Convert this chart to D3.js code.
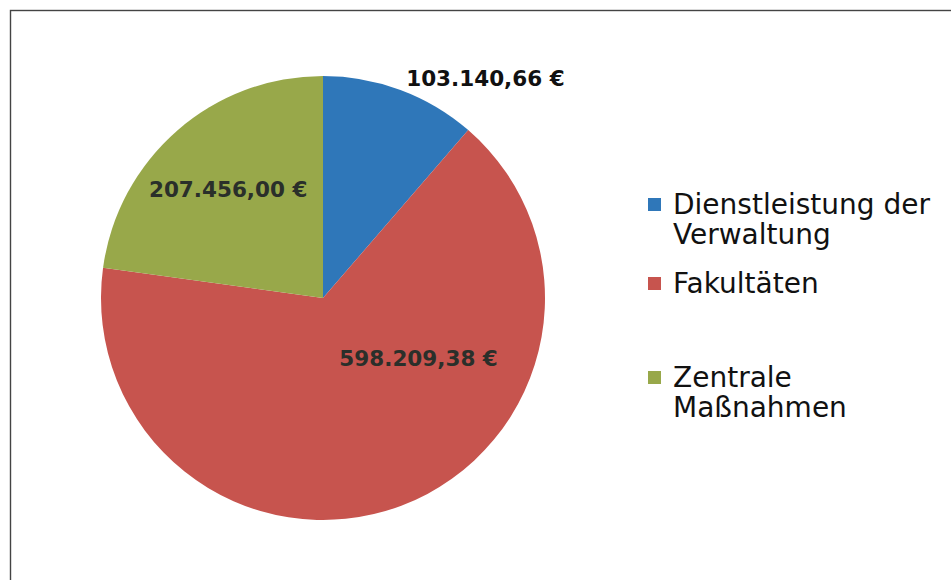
<!DOCTYPE html>
<html>
<head>
<meta charset="utf-8">
<script src="https://cdn.jsdelivr.net/npm/d3@7"></script>
<style>
  body { margin: 0; background: #fff; }
</style>
</head>
<body>
<div id="chart"></div>
<script>
const categories = ["Dienstleistung der Verwaltung", "Fakultäten", "Zentrale Maßnahmen"];
const legendLines = [["Dienstleistung der", "Verwaltung"], ["Fakultäten"], ["Zentrale", "Maßnahmen"]];
const amounts = [103140.66, 598209.38, 207456.00];
const colors = ["#2f77b9", "#c7544e", "#98a84a"];

const width = 951, height = 580;
const cx = 323, cy = 298, radius = 222;

// label placement per slice: [angle in degrees clockwise from top, distance as fraction of radius]
const labelPlace = [[36.5, 1.23], [122.4, 0.51], [318.9, 0.65]];
const legendY = [[214, 244], [293], [387, 417]];

const de = d3.formatLocale({
    decimal: ",",
    thousands: ".",
    grouping: [3],
    currency: ["", " €"]
});
const fmt = de.format("$,.2f");

const svg = d3.select("#chart")
    .append("svg")
    .attr("width", width)
    .attr("height", height);

svg.append("rect")
    .attr("x", 10.5)
    .attr("y", 10.5)
    .attr("width", 960)
    .attr("height", 600)
    .attr("fill", "none")
    .attr("stroke", "#444")
    .attr("stroke-width", 1.4);

const pie = d3.pie().sort(null).value(d => d);
const arcs = pie(amounts);
const arc = d3.arc().innerRadius(0).outerRadius(radius);

const g = svg.append("g").attr("transform", `translate(${cx},${cy})`);

g.selectAll("path")
    .data(arcs)
    .join("path")
    .attr("d", arc)
    .attr("fill", (d, i) => colors[i]);

g.selectAll("text.val")
    .data(arcs)
    .join("text")
    .attr("class", "val")
    .attr("x", (d, i) => Math.sin(labelPlace[i][0] * Math.PI / 180) * radius * labelPlace[i][1])
    .attr("y", (d, i) => -Math.cos(labelPlace[i][0] * Math.PI / 180) * radius * labelPlace[i][1])
    .attr("dy", "0.35em")
    .attr("text-anchor", "middle")
    .attr("font-family", "DejaVu Sans, Verdana, sans-serif")
    .attr("font-weight", "bold")
    .attr("font-size", "21.5px")
    .attr("fill", (d, i) => i === 0 ? "#111" : "#2a2f2a")
    .text(d => fmt(d.data));

const legend = svg.append("g");

legendLines.forEach(function(lines, i) {
    legend.append("rect")
        .attr("x", 648)
        .attr("y", legendY[i][0] - 16)
        .attr("width", 13)
        .attr("height", 13)
        .attr("fill", colors[i]);
    lines.forEach(function(line, j) {
        legend.append("text")
            .attr("x", 673)
            .attr("y", legendY[i][j])
            .attr("font-family", "DejaVu Sans, Verdana, sans-serif")
            .attr("font-size", "28px")
            .attr("fill", "#111")
            .text(line);
    });
});
</script>
</body>
</html>
